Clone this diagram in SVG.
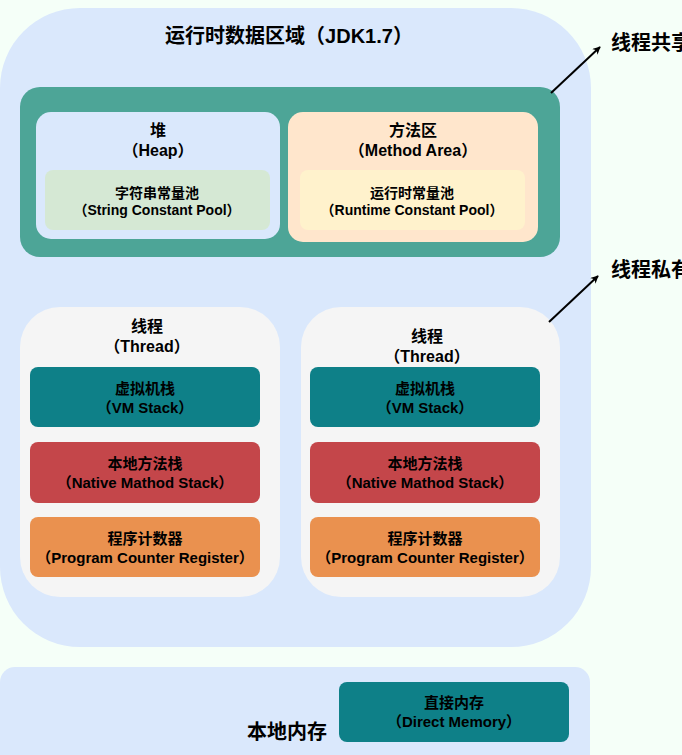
<svg xmlns="http://www.w3.org/2000/svg" width="682" height="755" viewBox="0 0 682 755">
<style>
text{font-family:"Liberation Sans","Noto Sans CJK SC",sans-serif;font-weight:bold;fill:#000;text-anchor:middle}
.p{font-size:14px}
.s{font-size:15px}
.b{font-size:20px}
.m{font-size:16px}
</style>
<defs>
<marker id="ah" viewBox="0 0 10 10" refX="9" refY="5" markerWidth="8" markerHeight="8" orient="auto" markerUnits="userSpaceOnUse">
<path d="M0,0 L10,5 L0,10 L3,5 Z" fill="#000"/>
</marker>
</defs>
<rect x="0" y="0" width="682" height="755" fill="#F5FFF8"/>
<g id="runtime">
<rect x="0" y="8" width="591" height="639" rx="80" ry="80" fill="#DAE8FC"/>
<text class="b" x="289" y="43">运行时数据区域（JDK1.7）</text>
</g>
<g id="shared">
<rect x="20" y="87" width="540" height="170" rx="20" fill="#4DA597"/>
</g>
<g id="heap">
<rect x="36" y="112" width="244" height="127" rx="15" fill="#DAE8FC"/>
<text class="m" x="158" y="136">堆</text>
<text class="m" x="158" y="156">（Heap）</text>
</g>
<g id="stringpool">
<rect x="45" y="170" width="225" height="60" rx="8" fill="#D5E8D4"/>
<text class="p" x="157" y="198">字符串常量池</text>
<text class="p" x="157" y="215">（String Constant Pool）</text>
</g>
<g id="method">
<rect x="288" y="112" width="250" height="130" rx="15" fill="#FFE6CC"/>
<text class="m" x="413" y="136">方法区</text>
<text class="m" x="413" y="156">（Method Area）</text>
</g>
<g id="runtimepool">
<rect x="300" y="170" width="225" height="60" rx="8" fill="#FFF2CC"/>
<text class="p" x="412" y="198">运行时常量池</text>
<text class="p" x="412" y="215">（Runtime Constant Pool）</text>
</g>
<g id="thread1">
<rect x="20" y="307" width="260" height="290" rx="40" fill="#F5F5F5"/>
<text class="m" x="147" y="332">线程</text>
<text class="m" x="147" y="352">（Thread）</text>
</g>
<g id="vm1">
<rect x="30" y="367" width="230" height="60" rx="8" fill="#0E8088"/>
<text class="s" x="145" y="394">虚拟机栈</text>
<text class="s" x="145" y="413">（VM Stack）</text>
</g>
<g id="native1">
<rect x="30" y="442" width="230" height="61" rx="8" fill="#C4464A"/>
<text class="s" x="145" y="469">本地方法栈</text>
<text class="s" x="145" y="488">（Native Mathod Stack）</text>
</g>
<g id="pc1">
<rect x="30" y="517" width="230" height="60" rx="8" fill="#EA914F"/>
<text class="s" x="145" y="544">程序计数器</text>
<text class="s" x="145" y="563">（Program Counter Register）</text>
</g>
<g id="thread2">
<rect x="301" y="307" width="259" height="290" rx="40" fill="#F5F5F5"/>
<text class="m" x="427" y="342">线程</text>
<text class="m" x="427" y="362">（Thread）</text>
</g>
<g id="vm2">
<rect x="310" y="367" width="230" height="60" rx="8" fill="#0E8088"/>
<text class="s" x="425" y="394">虚拟机栈</text>
<text class="s" x="425" y="413">（VM Stack）</text>
</g>
<g id="native2">
<rect x="310" y="442" width="230" height="61" rx="8" fill="#C4464A"/>
<text class="s" x="425" y="469">本地方法栈</text>
<text class="s" x="425" y="488">（Native Mathod Stack）</text>
</g>
<g id="pc2">
<rect x="310" y="517" width="230" height="60" rx="8" fill="#EA914F"/>
<text class="s" x="425" y="544">程序计数器</text>
<text class="s" x="425" y="563">（Program Counter Register）</text>
</g>
<g id="nativemem">
<rect x="0" y="667" width="590" height="110" rx="15" fill="#DAE8FC"/>
<text class="b" x="287" y="739">本地内存</text>
</g>
<g id="direct">
<rect x="339" y="682" width="230" height="60" rx="8" fill="#0E8088"/>
<text class="s" x="454" y="708">直接内存</text>
<text class="s" x="454" y="727">（Direct Memory）</text>
</g>
<g id="label-shared">
<text class="b" x="611" y="50" style="text-anchor:start">线程共享</text>
</g>
<g id="label-private">
<text class="b" x="611" y="277" style="text-anchor:start">线程私有</text>
</g>
<g id="connectors" stroke="#000" stroke-width="2" fill="none">
<line x1="551" y1="93" x2="600" y2="47" marker-end="url(#ah)"/>
<line x1="549" y1="322" x2="598" y2="276" marker-end="url(#ah)"/>
</g>
</svg>
